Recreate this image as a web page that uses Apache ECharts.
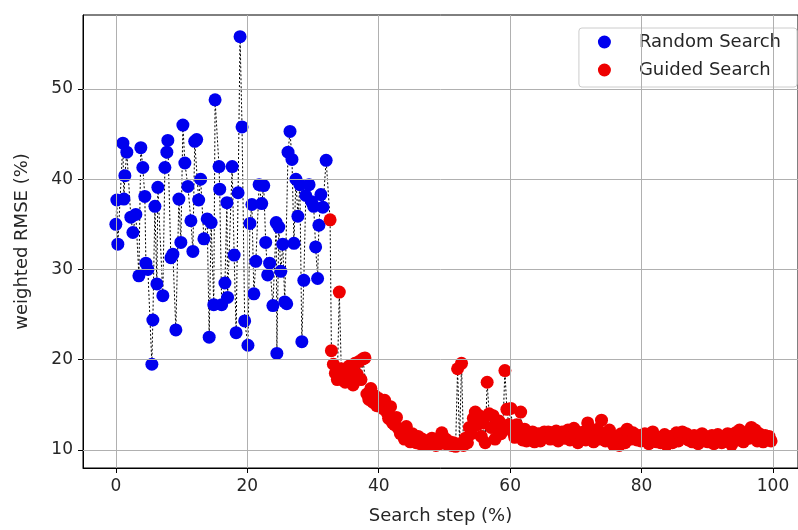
<!DOCTYPE html>
<html>
<head>
<meta charset="utf-8">
<script src="https://cdn.jsdelivr.net/npm/echarts@6/dist/echarts.min.js"></script>
<style>html,body{margin:0;padding:0;background:#fff;overflow:hidden;}#c{width:798px;height:530px;}</style>
</head>
<body>
<div id="c"></div>
<script>
const xTicks = [0, 20, 40, 60, 80, 100];
const yTicks = [10, 20, 30, 40, 50];
const seriesNames = ['Random Search', 'Guided Search'];

const randomSearch = [
[0.0,35.0],[0.15,37.7],[0.3,32.8],[1.07,44.0],[1.22,37.8],[1.37,40.4],[1.67,43.0],[2.28,35.8],[2.59,34.1],[3.04,36.1],
[3.5,29.3],[3.8,43.5],[4.1,41.3],[4.41,38.1],[4.57,30.7],[4.87,30.0],[5.48,19.5],[5.63,24.4],[5.94,37.0],[6.24,28.4],
[6.39,39.1],[7.15,27.1],[7.46,41.3],[7.76,43.0],[7.91,44.3],[8.37,31.3],[8.68,31.7],[9.13,23.3],[9.59,37.8],[9.89,33.0],
[10.2,46.0],[10.5,41.8],[10.96,39.2],[11.42,35.4],[11.72,32.0],[12.0,44.2],[12.3,44.4],[12.6,37.7],[12.9,40.0],[13.4,33.4],
[13.9,35.6],[14.2,22.5],[14.5,35.2],[14.9,26.1],[15.1,48.8],[15.7,41.4],[15.8,38.9],[16.1,26.1],[16.6,28.5],[16.9,37.4],
[17.0,26.9],[17.7,41.4],[18.0,31.6],[18.3,23.0],[18.6,38.5],[18.9,55.8],[19.2,45.8],[19.6,24.3],[20.1,21.6],[20.4,35.1],
[20.7,37.2],[21.0,27.3],[21.3,30.9],[21.8,39.4],[22.2,37.3],[22.5,39.3],[22.8,33.0],[23.1,29.4],[23.4,30.7],[23.9,26.0],
[24.4,35.2],[24.5,20.7],[24.8,34.7],[25.1,29.8],[25.4,32.8],[25.7,26.4],[26.0,26.2],[26.2,43.0],[26.5,45.3],[26.8,42.2],
[27.1,32.9],[27.4,40.0],[27.7,35.9],[28.0,39.4],[28.3,22.0],[28.6,28.8],[28.9,38.2],[29.4,39.4],[29.8,37.5],[30.1,37.0],
[30.4,32.5],[30.7,29.0],[30.9,34.9],[31.2,38.3],[31.5,36.9],[32.0,42.1]
];

const guidedSearch = [
[32.6,35.5],[32.8,21.0],[33.1,19.5],[33.4,18.5],[33.7,17.8],[34.0,27.5],[34.3,19.0],[34.6,18.2],[34.9,17.5],[35.2,18.8],
[35.5,19.3],[35.8,18.0],[36.1,17.2],[36.4,19.6],[36.7,18.4],[37.0,19.8],[37.3,17.8],[37.6,20.1],[37.9,20.2],[38.2,16.2],
[38.5,15.6],[38.8,16.8],[39.1,15.3],[39.4,16.0],[39.7,14.9],[40.0,15.7],[40.3,15.2],[40.6,14.6],[40.9,15.5],[41.2,14.2],
[41.5,13.5],[41.8,14.8],[42.1,13.0],[42.4,12.8],[42.7,13.6],[43.0,12.4],[43.3,11.8],[43.6,12.2],[43.9,11.2],[44.2,12.6],
[44.5,11.5],[44.8,10.9],[45.1,11.8],[45.4,11.0],[45.7,10.8],[46.0,11.5],[46.3,10.7],[46.6,11.2],[46.9,10.6],[47.2,11.0],
[47.5,10.9],[47.8,10.6],[48.1,11.3],[48.4,10.8],[48.7,10.5],[49.0,11.0],[49.3,10.7],[49.6,11.9],[49.9,10.8],[50.2,11.2],
[50.5,10.6],[50.8,10.9],[51.1,10.5],[51.4,10.8],[51.7,10.4],[52.0,19.0],[52.3,10.7],[52.6,19.6],[52.9,10.5],[53.2,11.3],
[53.5,10.8],[53.8,12.5],[54.1,11.8],[54.4,13.5],[54.7,14.2],[55.0,12.8],[55.3,13.8],[55.6,11.5],[55.9,13.0],[56.2,10.8],
[56.5,17.5],[56.8,14.0],[57.1,12.5],[57.4,13.8],[57.7,11.2],[58.0,12.4],[58.3,13.2],[58.6,11.8],[58.9,12.6],[59.2,18.8],
[59.5,14.5],[59.8,12.8],[60.1,14.6],[60.4,12.0],[60.7,11.4],[61.0,12.8],[61.3,11.6],[61.6,14.2],[61.9,11.1],[62.2,12.3],
[62.5,11.0],[62.8,11.6],[63.1,11.2],[63.4,12.0],[63.7,10.9],[64.0,11.5],[64.3,11.8],[64.6,11.0],[64.9,11.7],[65.2,12.0],
[65.5,11.4],[65.8,12.0],[66.1,11.2],[66.4,11.9],[66.7,11.5],[67.0,12.1],[67.3,11.0],[67.6,11.8],[67.9,12.0],[68.2,11.3],
[68.5,11.6],[68.8,12.2],[69.1,11.1],[69.4,11.7],[69.7,12.4],[70.0,11.5],[70.3,10.8],[70.6,11.9],[70.9,11.3],[71.2,12.0],
[71.5,11.1],[71.8,13.0],[72.1,11.6],[72.4,12.1],[72.7,10.9],[73.0,11.5],[73.3,12.3],[73.6,11.2],[73.9,13.3],[74.2,11.8],
[74.5,11.0],[74.8,11.6],[75.1,12.2],[75.4,11.3],[75.7,10.6],[76.0,11.5],[76.3,11.1],[76.6,10.5],[76.9,11.8],[77.2,11.0],
[77.5,10.8],[77.8,12.3],[78.1,11.7],[78.4,11.2],[78.7,11.9],[79.0,11.5],[79.3,11.1],[79.6,11.6],[79.9,11.0],[80.2,11.4],
[80.5,11.8],[80.8,11.2],[81.1,10.7],[81.4,11.5],[81.7,12.0],[82.0,11.3],[82.3,10.9],[82.6,11.4],[82.9,10.8],[83.2,11.2],
[83.5,11.7],[83.8,10.6],[84.1,11.0],[84.4,11.5],[84.7,10.8],[85.0,11.3],[85.3,11.9],[85.6,11.0],[85.9,11.6],[86.2,12.0],
[86.5,11.4],[86.8,11.8],[87.1,11.1],[87.4,11.5],[87.7,10.9],[88.0,11.6],[88.3,11.2],[88.6,10.7],[88.9,11.3],[89.2,11.8],
[89.5,11.0],[89.8,11.5],[90.1,10.9],[90.4,11.2],[90.7,11.6],[91.0,10.7],[91.3,11.1],[91.6,11.7],[91.9,11.3],[92.2,10.8],
[92.5,11.4],[92.8,11.0],[93.1,11.8],[93.4,11.2],[93.7,10.6],[94.0,11.5],[94.3,11.9],[94.6,11.1],[94.9,12.2],[95.2,11.4],
[95.5,10.9],[95.8,11.7],[96.1,12.0],[96.4,11.3],[96.7,12.5],[97.0,11.6],[97.3,12.2],[97.6,11.0],[97.9,11.8],[98.2,11.4],
[98.5,10.9],[98.8,11.6],[99.1,11.2],[99.4,11.5],[99.7,11.0]
];

const allPoints = randomSearch.concat(guidedSearch);
const font = 'DejaVu Sans';
const txt = '#262626';
const gridLines = xTicks.map(v => ({xAxis: v})).concat(yTicks.map(v => ({yAxis: v})));

const chart = echarts.init(document.getElementById('c'), null, {renderer: 'canvas'});
chart.setOption({
  animation: false,
  backgroundColor: '#ffffff',
  grid: {left: 83, right: 0, top: 15, bottom: 60, show: true, borderColor: '#000', borderWidth: 1, backgroundColor: 'transparent'},
  xAxis: {
    type: 'value', min: -5, max: 103.8,
    name: 'Search step (%)', nameLocation: 'middle', nameGap: 39,
    nameTextStyle: {fontFamily: font, fontSize: 18, color: txt, padding: [0, 0, 0, 0]},
    axisLine: {show: true, onZero: false, lineStyle: {color: '#000'}},
    axisTick: {show: true, customValues: xTicks, length: 5, inside: false, lineStyle: {color: '#000'}},
    axisLabel: {customValues: xTicks, margin: 10, fontFamily: font, fontSize: 17, color: txt},
    splitLine: {show: false}
  },
  yAxis: {
    type: 'value', min: 8, max: 58.2,
    name: 'weighted RMSE (%)', nameLocation: 'middle', nameGap: 52, nameRotate: 90,
    nameTextStyle: {fontFamily: font, fontSize: 18, color: txt},
    axisLine: {show: true, onZero: false, lineStyle: {color: '#000'}},
    axisTick: {show: true, customValues: yTicks, length: 5, inside: false, lineStyle: {color: '#000'}},
    axisLabel: {customValues: yTicks, margin: 10, fontFamily: font, fontSize: 17, color: txt},
    splitLine: {show: false}
  },
  legend: {
    data: seriesNames,
    orient: 'vertical', right: 1, top: 28,
    backgroundColor: '#fff', borderColor: '#cccccc', borderWidth: 1, borderRadius: 3,
    padding: [5, 16, 8, 19],
    itemWidth: 13, itemHeight: 13, itemGap: 10,
    icon: 'circle',
    textStyle: {fontFamily: font, fontSize: 18, lineHeight: 18, color: txt, padding: [0, 0, 0, 23]}
  },
  series: [
    {
      type: 'line', name: 'path', data: allPoints, z: 1,
      showSymbol: false, symbol: 'none',
      lineStyle: {color: '#000', width: 1, type: [2, 2]},
      silent: true,
      markLine: {
        silent: true, symbol: 'none', label: {show: false},
        lineStyle: {color: '#b0b0b0', width: 1, type: 'solid'},
        data: gridLines
      }
    },
    {
      type: 'scatter', name: seriesNames[0], data: randomSearch, z: 3,
      symbol: 'circle', symbolSize: 13,
      itemStyle: {color: '#0000ee', opacity: 1}
    },
    {
      type: 'scatter', name: seriesNames[1], data: guidedSearch, z: 3,
      symbol: 'circle', symbolSize: 13,
      itemStyle: {color: '#ee0000', opacity: 1}
    }
  ]
});
</script>
</body>
</html>
